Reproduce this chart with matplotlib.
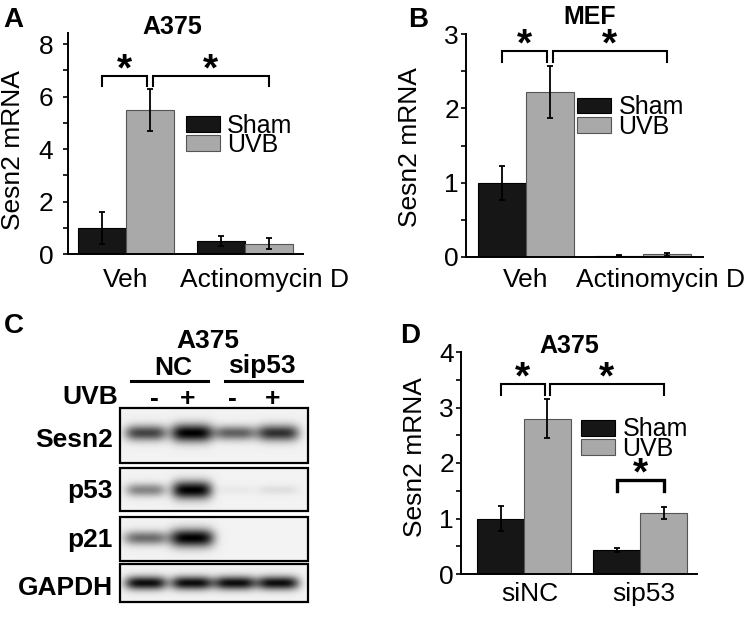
import numpy as np
import matplotlib
matplotlib.use('Agg')
import matplotlib.pyplot as plt
from matplotlib.patches import Rectangle

plt.rcParams['font.family'] = ['Liberation Sans', 'DejaVu Sans']

W, H = 750, 619  # figure size in pixels

# ---- data ----
a_groups = ['Veh', 'Actinomycin D']
a_sham = [1.0, 0.5]
a_sham_err = [0.6, 0.2]
a_uvb = [5.5, 0.4]
a_uvb_err = [0.8, 0.2]

b_groups = ['Veh', 'Actinomycin D']
b_sham = [1.0, 0.02]
b_sham_err = [0.23, 0.01]
b_uvb = [2.22, 0.04]
b_uvb_err = [0.35, 0.02]

d_groups = ['siNC', 'sip53']
d_sham = [1.0, 0.43]
d_sham_err = [0.23, 0.04]
d_uvb = [2.8, 1.1]
d_uvb_err = [0.35, 0.1]

# significance brackets: (bar i, bar j, height); bars are Sham0, UVB0, Sham1, UVB1
a_sig = [(0, 1, 6.78), (1, 3, 6.78)]
b_sig = [(0, 1, 2.77), (1, 3, 2.77)]
d_sig = [(0, 1, 3.42), (1, 3, 3.42), (2, 3, 1.69)]

# western blot (panel C): relative band intensity per lane
blot_rows = ['Sesn2', 'p53', 'p21', 'GAPDH']
uvb_signs = ['-', '+', '-', '+']
sesn2_band = [0.72, 1.0, 0.6, 0.8]
p53_band = [0.45, 1.0, 0.04, 0.08]
p21_band = [0.55, 1.0, 0.0, 0.0]
gapdh_band = [0.95, 0.95, 0.95, 0.95]

SHAM_C = '#161616'
UVB_C = '#a9a9a9'


def px_axes(fig, left, top, right, bottom):
    return fig.add_axes([left / W, 1 - bottom / H, (right - left) / W, (bottom - top) / H])


def bar_panel(ax, groups, sham, sham_err, uvb, uvb_err, width, xlim, ylim,
              major, minor, sig, leg, label_shift, xpad, ypad, legend_xy, title, title_xy):
    x = np.arange(len(groups))
    ax.bar(x - width / 2, sham, width, color=SHAM_C, edgecolor='k', lw=0.8, label='Sham', zorder=2)
    ax.bar(x + width / 2, uvb, width, color=UVB_C, edgecolor='#555555', lw=0.8, label='UVB', zorder=2)
    ax.errorbar(x - width / 2, sham, yerr=sham_err, fmt='none', ecolor='k',
                elinewidth=1.3, capsize=2.5, capthick=1.3, zorder=3)
    ax.errorbar(x + width / 2, uvb, yerr=uvb_err, fmt='none', ecolor='k',
                elinewidth=1.3, capsize=2.5, capthick=1.3, zorder=3)

    centers = np.ravel(np.column_stack([x - width / 2, x + width / 2]))
    for k, (i, j, h) in enumerate(sig):
        x0, x1 = centers[i], centers[j]
        # leave a small gap where two brackets meet
        if any(s[1] == i for s in sig if s is not sig[k]):
            x0 += 0.025
        if any(s[0] == j for s in sig if s is not sig[k]):
            x1 -= 0.025
        lw = 2.4 if h < ylim[1] * 0.5 else 1.5
        ax.plot([x0, x0, x1, x1], [h - leg, h, h, h - leg], color='k', lw=lw,
                solid_joinstyle='miter', zorder=4)
        ax.annotate('*', xy=((x0 + x1) / 2, h), xytext=(0, -4), textcoords='offset pixels',
                    ha='center', va='baseline', fontsize=28, fontweight='bold', zorder=5)

    ax.set_xlim(xlim)
    ax.set_ylim(ylim)
    ax.set_xticks(x + np.array(label_shift), groups)
    ax.set_yticks(major)
    ax.set_yticks(minor, minor=True)
    ax.tick_params(axis='x', length=0, pad=xpad, labelsize=19)
    ax.tick_params(axis='y', which='both', direction='out', length=3.5, width=1.2,
                   pad=ypad, labelsize=19)
    for s in ['top', 'right']:
        ax.spines[s].set_visible(False)
    for s in ['left', 'bottom']:
        ax.spines[s].set_linewidth(1.4)
    ax.patch.set_alpha(0)
    ax.legend(loc='upper left', bbox_to_anchor=legend_xy, frameon=False, fontsize=18,
              handlelength=1.36, handleheight=0.6, handletextpad=0.28,
              labelspacing=-0.18, borderpad=0, borderaxespad=0)
    ax.set_title(title, x=title_xy[0], y=title_xy[1], pad=0, fontsize=18, fontweight='bold')


fig = plt.figure(figsize=(W / 100, H / 100), dpi=100)

# overlay in pixel coordinates for panel letters and the blot
ov = fig.add_axes([0, 0, 1, 1])
ov.axis('off')

# ---- panel A ----
axA = px_axes(fig, 68, 33, 303, 254)
bar_panel(axA, a_groups, a_sham, a_sham_err, a_uvb, a_uvb_err, 0.40,
          (-0.487, 1.487), (0, 8.42), [0, 2, 4, 6, 8], [1, 3, 5, 7],
          a_sig, 0.38, [0, 0.16], 10, 7, (0.503, 0.635), 'A375', (0.443, 0.994))
axA.set_ylabel('Sesn2 mRNA', fontsize=19, va='center')
axA.yaxis.set_label_coords(-0.234, 0.47)

# ---- panel B ----
axB = px_axes(fig, 466, 34, 703, 257)
bar_panel(axB, b_groups, b_sham, b_sham_err, b_uvb, b_uvb_err, 0.41,
          (-0.513, 1.513), (0, 3.0), [0, 1, 2, 3], [0.5, 1.5, 2.5],
          b_sig, 0.15, [0, 0.15], 8, 1.5, (0.47, 0.725), 'MEF', (0.523, 1.045))
axB.set_ylabel('Sesn2 mRNA', fontsize=19, va='center')
axB.yaxis.set_label_coords(-0.236, 0.493)

# ---- panel D ----
axD = px_axes(fig, 461, 352, 697, 574)
bar_panel(axD, d_groups, d_sham, d_sham_err, d_uvb, d_uvb_err, 0.405,
          (-0.543, 1.491), (0, 4.0), [0, 1, 2, 3, 4], [0.5, 1.5, 2.5, 3.5],
          d_sig, 0.2, [0.05, 0.03], 6, 1.5, (0.51, 0.705), 'A375', (0.458, 0.995))
axD.set_ylabel('Sesn2 mRNA', fontsize=19, va='center')
axD.yaxis.set_label_coords(-0.195, 0.527)

# ---- panel C: western blot ----
lanes_x = [146, 192, 235, 278]
row_boxes = [(120, 408, 308, 463), (120, 468, 308, 511), (120, 517, 308, 561), (120, 564, 308, 602)]
row_center = [433, 490, 538, 583]
row_band_h = [18, 18, 18, 14]
row_band_w = [42, 40, 44, 42]
row_label_y = [447, 498, 547, 595]
bands = [sesn2_band, p53_band, p21_band, gapdh_band]

for name, box, cy, bh, bw, ly, ints in zip(blot_rows, row_boxes, row_center, row_band_h,
                                           row_band_w, row_label_y, bands):
    l, t, r, b = box
    xs = np.arange(l, r, 0.5) + 0.25
    ys = np.arange(t, b, 0.5) + 0.25
    X, Y = np.meshgrid(xs, ys)
    dark = np.zeros_like(X)
    for cx, inten in zip(lanes_x, ints):
        hh = bh * (0.5 + 0.5 * inten)
        dark += inten * np.exp(-np.abs((X - cx) / (bw / 2)) ** 4 - ((Y - cy) / (hh / 2)) ** 2)
    img = np.clip(0.95 - 0.95 * dark, 0, 1)
    ov.imshow(img, cmap='gray', vmin=0, vmax=1, extent=(l, r, b, t), aspect='auto',
              interpolation='bilinear', zorder=1)
    ov.add_patch(Rectangle((l, t), r - l, b - t, fill=False, lw=1.6, ec='k', zorder=2))
    ov.text(113, ly, name, ha='right', va='baseline', fontsize=19, fontweight='bold')

ov.text(208, 348, 'A375', ha='center', va='baseline', fontsize=19, fontweight='bold')
ov.text(173, 375, 'NC', ha='center', va='baseline', fontsize=19, fontweight='bold')
ov.text(262, 373, 'sip53', ha='center', va='baseline', fontsize=19, fontweight='bold')
ov.plot([131, 208], [381, 381], color='k', lw=2.2)
ov.plot([225, 302], [381, 381], color='k', lw=2.2)
ov.text(118, 404, 'UVB', ha='right', va='baseline', fontsize=19, fontweight='bold')
for sx, sg in zip([154, 188, 232, 273], uvb_signs):
    ov.text(sx, 406, sg, ha='center', va='baseline', fontsize=19, fontweight='bold')

# panel letters
for lx, ly, letter in [(3, 27, 'A'), (408, 27, 'B'), (4, 333, 'C'), (400, 343, 'D')]:
    ov.text(lx, ly, letter, ha='left', va='baseline', fontsize=20, fontweight='bold')

ov.set_xlim(0, W)
ov.set_ylim(H, 0)

fig.savefig('out.png', dpi=100)
